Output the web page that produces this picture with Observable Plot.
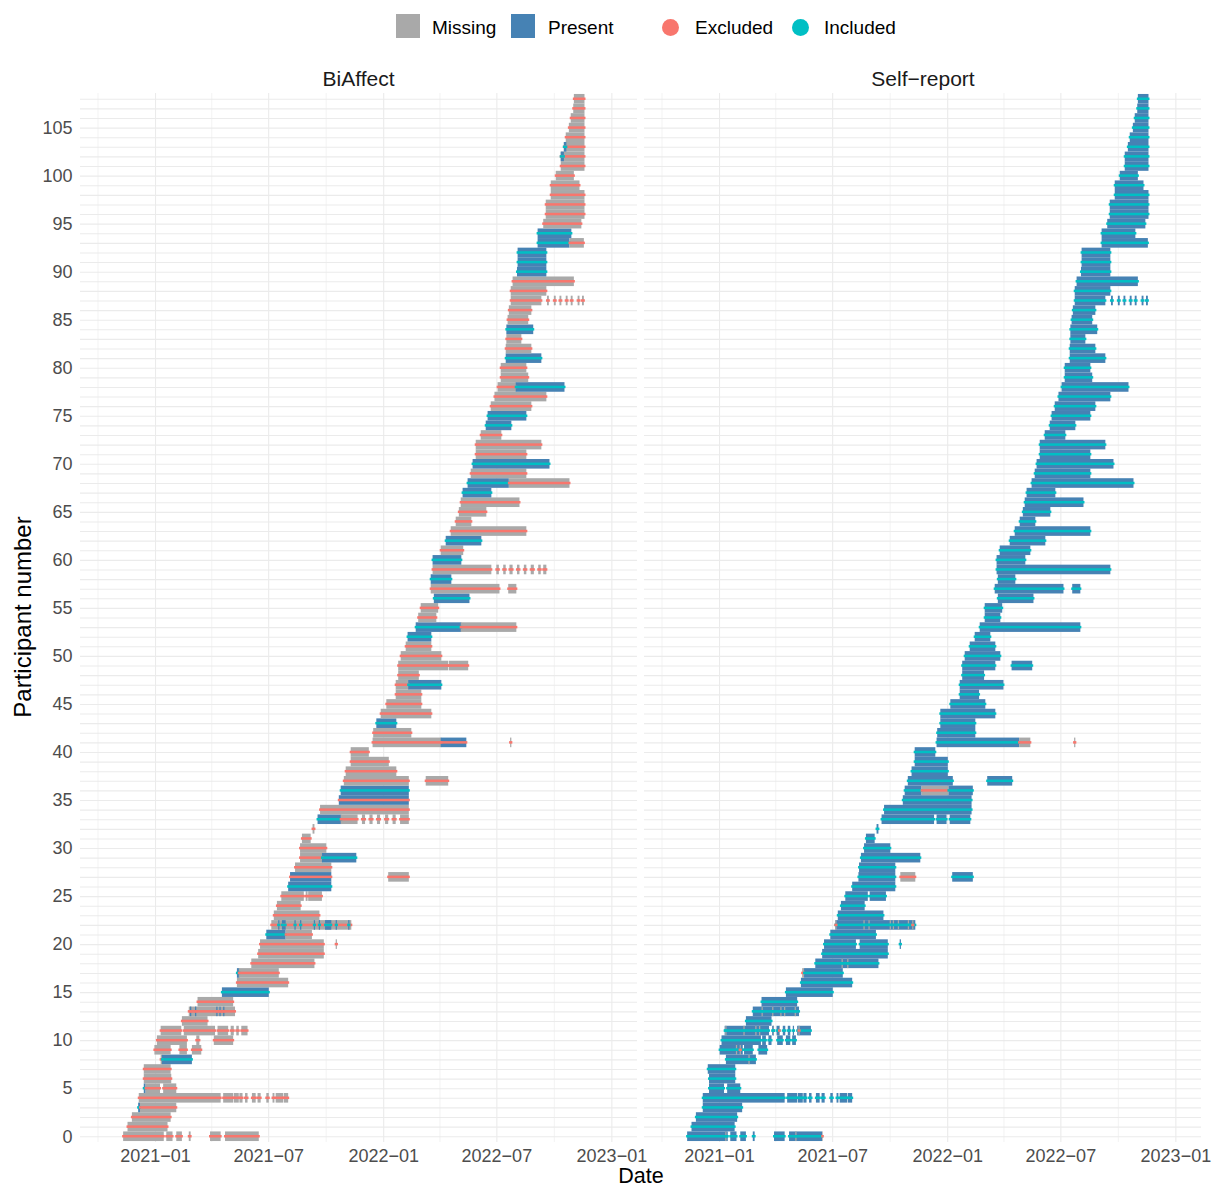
<!DOCTYPE html>
<html><head><meta charset="utf-8">
<script src="https://cdn.jsdelivr.net/npm/d3@7"></script>
<script src="https://cdn.jsdelivr.net/npm/@observablehq/plot@0.6"></script>
<style>
body{margin:0;background:#fff;font-family:"Liberation Sans",Arial,sans-serif;}
#wrap{position:relative;width:1220px;height:1189px;overflow:hidden;}
.t{position:absolute;white-space:nowrap;line-height:1;}
.c{transform:translate(-50%,-50%);}
.sw{position:absolute;}
</style></head><body><div id="wrap"></div>
<script>
// ---- data ----
const panels = ["BiAffect", "Self−report"];
const participants = d3.range(0, 109);
const yTicks = [0, 5, 10, 15, 20, 25, 30, 35, 40, 45, 50, 55, 60, 65, 70, 75, 80, 85, 90, 95, 100, 105];
const xMajor = ["2021-01-01", "2021-07-01", "2022-01-01", "2022-07-01", "2023-01-01"];
const xMinor = ["2020-10-01", "2021-04-01", "2021-10-01", "2022-04-01", "2022-10-01"];
const xDomain = ["2020-09-03", "2023-02-11"];
const tileLabels = {M: "Missing", P: "Present"};
const dotLabels = {E: "Excluded", I: "Included"};
const tileColors = {Missing: "#A9A9A9", Present: "#4682B4"};
const dotColors = {Excluded: "#F8766D", Included: "#00BFC4"};

// BiAffect runs: [participant, from, to, tile, dot]
const biaffectRuns = [
 [0,"2020-11-11","2021-01-14","M","E"],[0,"2021-01-19","2021-01-28","M","E"],[0,"2021-02-04","2021-02-12","M","E"],
 [0,"2021-02-24","2021-02-26","M","E"],[0,"2021-03-30","2021-04-15","M","E"],[0,"2021-04-23","2021-06-15","M","E"],
 [1,"2020-11-18","2021-01-20","M","E"],
 [2,"2020-11-25","2021-01-25","M","E"],
 [3,"2020-12-05","2020-12-07","P","I"],[3,"2020-12-08","2021-02-03","M","E"],
 [4,"2020-12-06","2021-04-15","M","E"],[4,"2021-04-20","2021-05-05","M","E"],[4,"2021-05-07","2021-05-14","M","E"],
 [4,"2021-05-16","2021-05-20","M","E"],[4,"2021-05-25","2021-05-28","M","E"],[4,"2021-06-05","2021-06-10","M","E"],
 [4,"2021-06-14","2021-06-18","M","E"],[4,"2021-06-28","2021-07-01","M","E"],[4,"2021-07-08","2021-07-10","M","E"],
 [4,"2021-07-13","2021-07-24","M","E"],[4,"2021-07-26","2021-08-01","M","E"],
 [5,"2020-12-14","2020-12-16","P","I"],[5,"2020-12-17","2021-01-08","M","E"],[5,"2021-01-14","2021-02-03","M","E"],
 [6,"2020-12-14","2021-01-26","M","E"],
 [7,"2020-12-14","2021-01-25","M","E"],
 [8,"2021-01-10","2021-01-12","M","E"],[8,"2021-01-12","2021-02-28","P","I"],
 [9,"2020-12-31","2021-01-25","M","E"],[9,"2021-02-09","2021-02-20","M","E"],[9,"2021-03-01","2021-03-15","M","E"],
 [10,"2021-01-04","2021-02-20","M","E"],[10,"2021-03-08","2021-03-12","M","E"],[10,"2021-04-05","2021-05-05","M","E"],
 [11,"2021-01-10","2021-02-11","M","E"],[11,"2021-02-16","2021-04-06","M","E"],[11,"2021-04-11","2021-04-27","M","E"],
 [11,"2021-05-02","2021-05-06","M","E"],[11,"2021-05-11","2021-05-14","M","E"],[11,"2021-05-19","2021-05-28","M","E"],
 [12,"2021-02-13","2021-03-25","M","E"],
 [13,"2021-02-24","2021-05-08","M","E"],[13,"2021-02-26","2021-02-27","P","E"],[13,"2021-03-06","2021-03-07","P","E"],
 [13,"2021-04-09","2021-04-10","P","E"],[13,"2021-04-14","2021-04-15","P","E"],[13,"2021-04-20","2021-04-21","P","E"],
 [14,"2021-03-10","2021-05-05","M","E"],
 [15,"2021-04-18","2021-07-01","P","I"],
 [16,"2021-05-12","2021-08-01","M","E"],
 [17,"2021-05-12","2021-05-15","P","I"],[17,"2021-05-15","2021-07-17","M","E"],
 [18,"2021-06-04","2021-09-12","M","E"],
 [19,"2021-06-15","2021-09-27","M","E"],
 [20,"2021-06-18","2021-09-27","M","E"],[20,"2021-10-17","2021-10-18","M","E"],
 [21,"2021-06-28","2021-07-28","P","I"],[21,"2021-07-29","2021-09-08","M","E"],
 [22,"2021-07-06","2021-11-10","M","E"],[22,"2021-07-17","2021-07-18","P","I"],[22,"2021-07-23","2021-07-28","P","I"],
 [22,"2021-08-12","2021-08-13","P","I"],[22,"2021-08-21","2021-08-22","P","I"],[22,"2021-09-12","2021-09-13","P","I"],
 [22,"2021-09-20","2021-09-21","P","I"],[22,"2021-09-30","2021-10-09","P","I"],[22,"2021-10-17","2021-10-18","P","I"],
 [22,"2021-11-06","2021-11-07","P","I"],
 [23,"2021-07-10","2021-09-20","M","E"],
 [24,"2021-07-15","2021-08-21","M","E"],
 [25,"2021-07-22","2021-08-26","M","E"],[25,"2021-08-30","2021-09-01","M","E"],[25,"2021-09-03","2021-09-24","M","E"],
 [26,"2021-08-02","2021-10-09","P","I"],
 [27,"2021-08-05","2021-10-09","P","E"],[27,"2022-01-09","2022-02-10","M","E"],
 [28,"2021-08-13","2021-10-09","M","E"],
 [29,"2021-08-21","2021-09-25","M","E"],[29,"2021-09-25","2021-11-18","P","I"],
 [30,"2021-08-21","2021-10-01","M","E"],
 [31,"2021-08-24","2021-09-06","M","E"],
 [32,"2021-09-10","2021-09-12","M","E"],
 [33,"2021-09-18","2021-10-25","P","I"],[33,"2021-10-25","2021-11-20","M","E"],[33,"2021-11-28","2021-12-02","M","E"],
 [33,"2021-12-10","2021-12-14","M","E"],[33,"2021-12-22","2021-12-26","M","E"],[33,"2022-01-04","2022-01-08","M","E"],
 [33,"2022-01-16","2022-01-20","M","E"],[33,"2022-01-28","2022-02-10","M","E"],
 [34,"2021-09-22","2022-02-10","M","E"],
 [35,"2021-10-22","2022-02-10","P","E"],
 [36,"2021-10-25","2022-02-10","P","I"],
 [37,"2021-10-30","2022-02-10","M","E"],[37,"2022-03-10","2022-04-14","M","E"],
 [38,"2021-11-02","2022-01-21","M","E"],
 [39,"2021-11-10","2022-01-09","M","E"],
 [40,"2021-11-10","2021-12-08","M","E"],
 [41,"2021-12-15","2022-04-03","M","E"],[41,"2022-04-03","2022-05-13","P","E"],[41,"2022-07-23","2022-07-24","M","E"],
 [42,"2021-12-16","2022-02-14","M","E"],
 [43,"2021-12-21","2022-01-21","P","I"],
 [44,"2021-12-28","2022-03-18","M","E"],
 [45,"2022-01-06","2022-03-02","M","E"],
 [46,"2022-01-21","2022-03-02","M","E"],
 [47,"2022-01-21","2022-02-10","M","E"],[47,"2022-02-10","2022-04-03","P","I"],
 [48,"2022-01-25","2022-02-26","M","E"],
 [49,"2022-01-25","2022-04-14","M","E"],[49,"2022-04-16","2022-05-16","M","E"],
 [50,"2022-01-29","2022-04-03","M","E"],
 [51,"2022-02-06","2022-03-18","M","E"],
 [52,"2022-02-09","2022-03-18","P","I"],
 [53,"2022-02-22","2022-05-05","P","I"],[53,"2022-05-05","2022-08-01","M","E"],
 [54,"2022-02-26","2022-03-26","M","E"],
 [55,"2022-03-02","2022-03-29","M","E"],
 [56,"2022-03-23","2022-05-18","P","I"],
 [57,"2022-03-18","2022-07-05","M","E"],[57,"2022-07-20","2022-08-01","M","E"],
 [58,"2022-03-18","2022-04-19","P","I"],
 [59,"2022-03-21","2022-06-22","M","E"],[59,"2022-07-01","2022-07-04","M","E"],[59,"2022-07-12","2022-07-15","M","E"],
 [59,"2022-07-22","2022-07-26","M","E"],[59,"2022-08-03","2022-08-06","M","E"],[59,"2022-08-14","2022-08-17","M","E"],
 [59,"2022-08-25","2022-08-29","M","E"],[59,"2022-09-06","2022-09-09","M","E"],[59,"2022-09-14","2022-09-18","M","E"],
 [60,"2022-03-21","2022-05-05","P","I"],
 [61,"2022-04-03","2022-05-08","M","E"],
 [62,"2022-04-11","2022-06-06","P","I"],
 [63,"2022-04-19","2022-08-17","M","E"],
 [64,"2022-04-27","2022-05-21","M","E"],
 [65,"2022-05-02","2022-06-14","M","E"],
 [66,"2022-05-05","2022-08-06","M","E"],
 [67,"2022-05-08","2022-06-22","P","I"],
 [68,"2022-05-16","2022-07-20","P","I"],[68,"2022-07-21","2022-10-25","M","E"],
 [69,"2022-05-21","2022-08-17","M","E"],
 [70,"2022-05-24","2022-09-23","P","I"],
 [71,"2022-05-29","2022-08-17","M","E"],
 [72,"2022-05-29","2022-09-10","M","E"],
 [73,"2022-06-06","2022-07-08","M","E"],
 [74,"2022-06-14","2022-07-24","P","I"],
 [75,"2022-06-17","2022-08-17","P","I"],
 [76,"2022-06-22","2022-08-25","M","E"],
 [77,"2022-06-28","2022-09-18","M","E"],
 [78,"2022-07-03","2022-08-01","M","E"],[78,"2022-08-01","2022-10-17","P","I"],
 [79,"2022-07-08","2022-08-20","M","E"],
 [80,"2022-07-08","2022-08-17","M","E"],
 [81,"2022-07-16","2022-09-10","P","I"],
 [82,"2022-07-16","2022-08-25","M","E"],
 [83,"2022-07-17","2022-08-09","M","E"],
 [84,"2022-07-17","2022-08-28","P","I"],
 [85,"2022-07-19","2022-08-20","M","E"],
 [86,"2022-07-21","2022-08-25","M","E"],
 [87,"2022-07-24","2022-09-10","M","E"],[87,"2022-09-20","2022-09-22","M","E"],[87,"2022-10-01","2022-10-03","M","E"],
 [87,"2022-10-10","2022-10-12","M","E"],[87,"2022-10-20","2022-10-22","M","E"],[87,"2022-10-28","2022-10-30","M","E"],
 [87,"2022-11-08","2022-11-10","M","E"],[87,"2022-11-15","2022-11-17","M","E"],
 [88,"2022-07-24","2022-09-18","M","E"],
 [89,"2022-07-27","2022-11-01","M","E"],
 [90,"2022-08-03","2022-09-18","P","I"],
 [91,"2022-08-04","2022-09-18","P","I"],
 [92,"2022-08-04","2022-09-18","P","I"],
 [93,"2022-09-05","2022-10-25","P","I"],[93,"2022-10-26","2022-11-17","M","E"],
 [94,"2022-09-05","2022-10-28","P","I"],
 [95,"2022-09-14","2022-11-13","M","E"],
 [96,"2022-09-18","2022-11-18","M","E"],
 [97,"2022-09-18","2022-11-18","M","E"],
 [98,"2022-09-26","2022-11-18","M","E"],
 [99,"2022-09-26","2022-11-10","M","E"],
 [100,"2022-10-04","2022-11-01","M","E"],
 [101,"2022-10-12","2022-11-18","M","E"],
 [102,"2022-10-12","2022-11-18","M","E"],[102,"2022-10-12","2022-10-16","P","I"],
 [103,"2022-10-17","2022-11-18","M","E"],[103,"2022-10-17","2022-10-20","P","I"],
 [104,"2022-10-20","2022-11-18","M","E"],
 [105,"2022-10-25","2022-11-18","M","E"],
 [106,"2022-10-28","2022-11-18","M","E"],
 [107,"2022-11-01","2022-11-18","M","E"],
 [108,"2022-11-02","2022-11-18","M","E"]
];

// Self-report runs: [participant, from, to, tile, dot]
const selfReportRuns = [
 [0,"2020-11-11","2021-01-14","P","I"],[0,"2021-01-19","2021-01-28","P","I"],[0,"2021-02-04","2021-02-12","P","I"],
 [0,"2021-02-24","2021-02-26","P","I"],[0,"2021-03-30","2021-04-15","P","I"],[0,"2021-04-23","2021-06-14","P","I"],
 [0,"2021-01-11","2021-01-12","M","I"],[0,"2021-05-03","2021-05-04","M","I"],[0,"2021-06-15","2021-06-15","M","E"],
 [1,"2020-11-18","2021-01-25","P","I"],
 [2,"2020-11-25","2021-01-29","P","I"],
 [3,"2020-12-06","2021-02-06","P","I"],
 [4,"2020-12-06","2021-04-15","P","I"],[4,"2021-04-20","2021-05-05","P","I"],[4,"2021-05-07","2021-05-14","P","I"],
 [4,"2021-05-16","2021-05-20","P","I"],[4,"2021-05-25","2021-05-28","P","I"],[4,"2021-06-05","2021-06-10","P","I"],
 [4,"2021-06-14","2021-06-18","P","I"],[4,"2021-06-28","2021-07-01","P","I"],[4,"2021-07-08","2021-07-10","P","I"],
 [4,"2021-07-13","2021-07-24","P","I"],[4,"2021-07-26","2021-08-01","P","I"],
 [5,"2020-12-16","2021-01-08","P","I"],[5,"2021-01-14","2021-02-03","P","I"],
 [6,"2020-12-16","2021-01-26","P","I"],
 [7,"2020-12-14","2021-01-26","P","I"],
 [8,"2021-01-12","2021-02-28","P","I"],[8,"2021-02-17","2021-02-18","M","I"],
 [9,"2021-01-02","2021-02-07","P","I"],[9,"2021-02-10","2021-02-23","P","I"],[9,"2021-03-05","2021-03-18","P","I"],
 [9,"2021-01-28","2021-01-29","M","I"],[9,"2021-02-03","2021-02-04","M","E"],
 [10,"2021-01-05","2021-03-08","P","I"],[10,"2021-03-11","2021-03-16","P","I"],[10,"2021-03-21","2021-03-25","P","I"],
 [10,"2021-04-04","2021-04-12","P","I"],[10,"2021-04-18","2021-04-24","P","I"],[10,"2021-04-28","2021-05-03","P","I"],
 [11,"2021-01-10","2021-03-21","P","I"],[11,"2021-03-27","2021-03-29","P","I"],[11,"2021-04-03","2021-04-07","P","I"],
 [11,"2021-04-13","2021-04-16","P","I"],[11,"2021-04-21","2021-04-24","P","I"],[11,"2021-04-29","2021-04-30","P","I"],
 [11,"2021-05-06","2021-05-27","P","I"],
 [11,"2021-01-11","2021-01-12","M","I"],[11,"2021-02-09","2021-02-10","M","I"],[11,"2021-02-28","2021-03-01","M","I"],
 [11,"2021-03-06","2021-03-07","M","I"],[11,"2021-03-29","2021-03-29","M","I"],[11,"2021-04-07","2021-04-07","M","E"],
 [11,"2021-05-08","2021-05-09","M","E"],
 [12,"2021-02-13","2021-03-25","P","I"],
 [13,"2021-02-24","2021-05-08","P","I"],[13,"2021-03-10","2021-03-11","M","I"],[13,"2021-03-27","2021-03-28","M","I"],
 [13,"2021-04-09","2021-04-10","M","I"],[13,"2021-04-15","2021-04-16","M","I"],[13,"2021-05-02","2021-05-03","M","I"],
 [14,"2021-03-10","2021-05-05","P","I"],
 [15,"2021-04-18","2021-07-01","P","I"],
 [16,"2021-05-12","2021-08-01","P","I"],
 [17,"2021-05-14","2021-05-16","M","E"],[17,"2021-05-17","2021-07-17","P","I"],
 [18,"2021-06-04","2021-09-12","P","I"],[18,"2021-07-16","2021-07-17","M","I"],[18,"2021-07-25","2021-07-26","M","I"],
 [19,"2021-06-15","2021-09-27","P","I"],
 [20,"2021-06-18","2021-08-07","P","I"],[20,"2021-08-14","2021-09-27","P","I"],[20,"2021-10-17","2021-10-18","P","I"],
 [21,"2021-06-28","2021-09-08","P","I"],
 [22,"2021-07-06","2021-11-10","P","I"],[22,"2021-07-06","2021-07-07","M","E"],[22,"2021-08-20","2021-08-21","M","I"],
 [22,"2021-08-28","2021-08-29","M","I"],[22,"2021-10-01","2021-10-02","M","I"],[22,"2021-10-06","2021-10-07","M","I"],
 [22,"2021-10-14","2021-10-15","M","I"],[22,"2021-10-30","2021-10-31","M","I"],[22,"2021-11-06","2021-11-07","M","E"],
 [23,"2021-07-10","2021-09-20","P","I"],
 [24,"2021-07-15","2021-08-21","P","I"],
 [25,"2021-07-22","2021-08-26","P","I"],[25,"2021-08-30","2021-09-24","P","I"],
 [26,"2021-08-02","2021-10-09","P","I"],
 [27,"2021-08-12","2021-10-09","P","I"],[27,"2021-10-18","2021-11-10","M","E"],[27,"2022-01-09","2022-02-10","P","I"],
 [28,"2021-08-13","2021-10-09","P","I"],
 [29,"2021-08-16","2021-11-18","P","I"],
 [30,"2021-08-21","2021-10-01","P","I"],
 [31,"2021-08-24","2021-09-06","P","I"],
 [32,"2021-09-10","2021-09-12","P","I"],
 [33,"2021-09-18","2021-12-10","P","I"],[33,"2021-12-15","2021-12-30","P","I"],[33,"2022-01-05","2022-02-06","P","I"],
 [34,"2021-09-22","2022-02-08","P","I"],
 [35,"2021-10-22","2022-02-08","P","I"],
 [36,"2021-10-25","2021-11-20","P","I"],[36,"2021-11-21","2022-01-02","M","E"],[36,"2022-01-03","2022-02-10","P","I"],
 [37,"2021-10-30","2022-01-09","P","I"],[37,"2022-03-06","2022-04-14","P","I"],
 [38,"2021-11-05","2022-01-01","P","I"],
 [39,"2021-11-10","2022-01-01","P","I"],
 [40,"2021-11-10","2021-12-12","P","I"],
 [41,"2021-12-15","2022-04-25","P","I"],[41,"2022-04-26","2022-05-13","M","E"],[41,"2022-07-23","2022-07-24","M","E"],
 [42,"2021-12-16","2022-02-14","P","I"],
 [43,"2021-12-21","2022-02-14","P","I"],
 [44,"2021-12-21","2022-03-18","P","I"],
 [45,"2022-01-06","2022-03-02","P","I"],
 [46,"2022-01-21","2022-02-20","P","I"],
 [47,"2022-01-21","2022-03-31","P","I"],
 [48,"2022-01-25","2022-02-28","P","I"],
 [49,"2022-01-25","2022-03-18","P","I"],[49,"2022-04-14","2022-05-16","P","I"],
 [50,"2022-01-29","2022-03-26","P","I"],
 [51,"2022-02-06","2022-03-18","P","I"],
 [52,"2022-02-14","2022-03-10","P","I"],
 [53,"2022-02-22","2022-08-01","P","I"],
 [54,"2022-03-02","2022-03-26","P","I"],
 [55,"2022-03-02","2022-03-29","P","I"],
 [56,"2022-03-23","2022-05-18","P","I"],
 [57,"2022-03-18","2022-07-05","P","I"],[57,"2022-07-20","2022-08-01","P","I"],
 [58,"2022-03-23","2022-04-19","P","I"],
 [59,"2022-03-21","2022-09-18","P","I"],
 [60,"2022-03-21","2022-05-05","P","I"],
 [61,"2022-03-26","2022-05-13","P","I"],
 [62,"2022-04-11","2022-06-06","P","I"],
 [63,"2022-04-19","2022-08-17","P","I"],
 [64,"2022-04-27","2022-05-21","P","I"],
 [65,"2022-05-02","2022-06-14","P","I"],
 [66,"2022-05-05","2022-08-06","P","I"],
 [67,"2022-05-08","2022-06-22","P","I"],
 [68,"2022-05-16","2022-10-25","P","I"],
 [69,"2022-05-21","2022-08-17","P","I"],
 [70,"2022-05-24","2022-09-23","P","I"],
 [71,"2022-05-29","2022-08-17","P","I"],
 [72,"2022-05-29","2022-09-10","P","I"],
 [73,"2022-06-06","2022-07-08","P","I"],
 [74,"2022-06-14","2022-07-24","P","I"],
 [75,"2022-06-17","2022-08-17","P","I"],
 [76,"2022-06-22","2022-08-25","P","I"],
 [77,"2022-06-28","2022-09-18","P","I"],
 [78,"2022-07-03","2022-10-17","P","I"],
 [79,"2022-07-08","2022-08-20","P","I"],
 [80,"2022-07-08","2022-08-17","P","I"],
 [81,"2022-07-16","2022-09-10","P","I"],
 [82,"2022-07-16","2022-08-25","P","I"],
 [83,"2022-07-17","2022-08-09","P","I"],
 [84,"2022-07-17","2022-08-28","P","I"],
 [85,"2022-07-19","2022-08-20","P","I"],
 [86,"2022-07-21","2022-08-25","P","I"],
 [87,"2022-07-24","2022-09-10","P","I"],[87,"2022-09-20","2022-09-22","P","I"],[87,"2022-10-01","2022-10-03","P","I"],
 [87,"2022-10-10","2022-10-12","P","I"],[87,"2022-10-20","2022-10-22","P","I"],[87,"2022-10-28","2022-10-30","P","I"],
 [87,"2022-11-08","2022-11-10","P","I"],[87,"2022-11-15","2022-11-17","P","I"],
 [88,"2022-07-24","2022-09-18","P","I"],
 [89,"2022-07-27","2022-11-01","P","I"],
 [90,"2022-08-03","2022-09-18","P","I"],
 [91,"2022-08-04","2022-09-18","P","I"],
 [92,"2022-08-04","2022-09-18","P","I"],
 [93,"2022-09-05","2022-11-17","P","I"],
 [94,"2022-09-05","2022-10-28","P","I"],
 [95,"2022-09-14","2022-11-13","P","I"],
 [96,"2022-09-18","2022-11-18","P","I"],
 [97,"2022-09-18","2022-11-18","P","I"],
 [98,"2022-09-26","2022-11-18","P","I"],
 [99,"2022-09-26","2022-11-10","P","I"],
 [100,"2022-10-04","2022-11-01","P","I"],
 [101,"2022-10-12","2022-11-18","P","I"],
 [102,"2022-10-12","2022-11-18","P","I"],
 [103,"2022-10-17","2022-11-18","P","I"],
 [104,"2022-10-20","2022-11-18","P","I"],
 [105,"2022-10-25","2022-11-18","P","I"],
 [106,"2022-10-28","2022-11-18","P","I"],
 [107,"2022-11-01","2022-11-18","P","I"],
 [108,"2022-11-02","2022-11-18","P","I"]
];

// ---- build table ----
const parse = d3.utcParse("%Y-%m-%d");
const cells = [];
[[panels[0], biaffectRuns], [panels[1], selfReportRuns]].forEach(([panel, runs]) => {
  for (const [p, a, b, t, s] of runs) {
    cells.push({panel, p, from: parse(a), to: d3.utcDay.offset(parse(b), 1),
      tile: tileLabels[t], dot: dotLabels[s]});
  }
});
const font = "'Liberation Sans', Arial, Helvetica, sans-serif";
const fmt = d => d3.utcFormat("%Y")(d) + "−" + d3.utcFormat("%m")(d);

const chart = Plot.plot({
  width: 1220, height: 1189,
  marginTop: 93, marginBottom: 47, marginLeft: 80, marginRight: 18,
  style: {fontFamily: font, background: "transparent", overflow: "visible"},
  x: {type: "utc", domain: xDomain.map(parse), label: null},
  y: {domain: [-0.6, 108.6], label: null},
  fx: {domain: panels, padding: 0.0124, label: null, axis: null},
  marks: [
    Plot.ruleY(participants, {stroke: "#ebebeb", strokeWidth: 1.1}),
    Plot.ruleX(xMinor.map(parse), {stroke: "#ebebeb", strokeWidth: 0.6}),
    Plot.ruleX(xMajor.map(parse), {stroke: "#ebebeb", strokeWidth: 1.1}),
    Plot.rect(cells, {fx: "panel", x1: "from", x2: "to", y1: d => d.p - 0.5, y2: d => d.p + 0.5,
      fill: d => tileColors[d.tile]}),
    Plot.rect(cells, {fx: "panel", x1: "from", x2: "to", y1: d => d.p - 0.13, y2: d => d.p + 0.13,
      fill: d => dotColors[d.dot], insetLeft: -1, insetRight: -1}),
    Plot.axisX({ticks: xMajor.map(parse), tickFormat: fmt, tickSize: 0, tickPadding: 7,
      fontSize: 18, fill: "#4d4d4d", label: null}),
    Plot.axisY({ticks: yTicks, tickSize: 0, tickPadding: 8, fontSize: 18, fill: "#4d4d4d", label: null})
  ]
});
const wrap = document.getElementById("wrap");
chart.style.position = "absolute"; chart.style.left = "0"; chart.style.top = "0";
wrap.appendChild(chart);

function text(str, x, y, size, color, extra) {
  const d = document.createElement("div");
  d.className = "t c"; d.textContent = str;
  d.style.left = x + "px"; d.style.top = y + "px";
  d.style.fontSize = size + "px"; d.style.color = color;
  if (extra) d.style.transform = extra;
  wrap.appendChild(d); return d;
}
function ltext(str, x, y, size, color) {
  const d = document.createElement("div");
  d.className = "t"; d.textContent = str;
  d.style.left = x + "px"; d.style.top = y + "px";
  d.style.fontSize = size + "px"; d.style.color = color;
  d.style.transform = "translateY(-50%)";
  wrap.appendChild(d); return d;
}
function swatch(x, y, w, h, color, round) {
  const d = document.createElement("div");
  d.className = "sw";
  d.style.left = x + "px"; d.style.top = y + "px";
  d.style.width = w + "px"; d.style.height = h + "px";
  d.style.background = color;
  if (round) d.style.borderRadius = "50%";
  wrap.appendChild(d);
}
// legend
swatch(396, 14, 24, 24, tileColors.Missing);
ltext("Missing", 432, 27, 19, "#000");
swatch(511, 14, 24, 24, tileColors.Present);
ltext("Present", 548, 27, 19, "#000");
swatch(661.5, 18.5, 17, 17, dotColors.Excluded, true);
ltext("Excluded", 695, 27, 19, "#000");
swatch(791.5, 18.5, 17, 17, dotColors.Included, true);
ltext("Included", 824, 27, 19, "#000");
// strip labels
text(panels[0], 358.5, 78, 21, "#1a1a1a");
text(panels[1], 923, 78, 21, "#1a1a1a");
// axis titles
text("Participant number", 23, 617, 24, "#000", "translate(-50%,-50%) rotate(-90deg)");
text("Date", 641, 1177, 21.5, "#000");
</script></body></html>
